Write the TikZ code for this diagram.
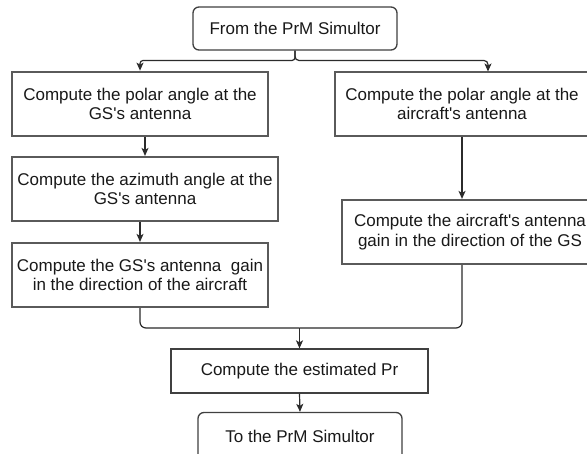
\documentclass[tikz,border=0pt]{standalone}
\usepackage{fontspec}
\setmainfont{Liberation Sans}
\usetikzlibrary{arrows.meta}
\definecolor{boxline}{HTML}{5A5A5A}
\definecolor{conn}{HTML}{2B2B2B}
\newcommand{\q}{\textquotesingle}
\begin{document}
\begin{tikzpicture}[x=1pt,y=-1pt,
  every node/.style={font=\fontsize{17}{19.5}\selectfont, text=black!90, inner sep=0pt, align=center},
  sq/.style={draw=boxline, line width=2.2pt, fill=white},
  thin/.style={draw=conn!90, line width=1.3pt, fill=white},
  rbox/.style={thin, rounded corners=6pt},
  conline/.style={draw=conn, line width=1.2pt},
  arr/.style={conline, -{Stealth[length=8pt,width=7pt,inset=2pt]}}
]
\useasboundingbox (0,0) rectangle (587,454);
\fill[white] (0,0) rectangle (587,454);

\node[rbox, minimum width=204pt, minimum height=43pt] (top) at (295,28.5) {From the PrM Simultor};

\node[sq, minimum width=256pt, minimum height=64.5pt] (L1) at (140,104) {Compute the polar angle at the\\GS\q s antenna};
\node[sq, minimum width=254pt, minimum height=64pt] (R1) at (462,104) {Compute the polar angle at the\\aircraft\q s antenna};
\node[sq, minimum width=266pt, minimum height=64pt] (L2) at (145,189) {Compute the azimuth angle at the\\GS\q s antenna};
\node[sq, minimum width=256pt, minimum height=64pt] (L3) at (140,275) {Compute the GS\q s antenna\ \ gain\\in the direction of the aircraft};
\node[sq, minimum width=256pt, minimum height=64pt] (R2) at (470,232) {Compute the aircraft\q s antenna\\gain in the direction of the GS};
\node[thin, minimum width=257pt, minimum height=44pt] (Pr) at (299.5,371) {Compute the estimated Pr};
\node[rbox, minimum width=204pt, minimum height=48pt] (bot) at (300,436.5) {To the PrM Simultor};

\coordinate (split) at (295,60.5);
\coordinate (r1in) at (488,71.5);
\coordinate (merge) at (299.5,328);

\draw[arr, rounded corners=3pt] (top.south) -- (top.south |- split) -| (L1.north);
\draw[arr, rounded corners=4pt] (top.south) -- (top.south |- split) -| (r1in);
\draw[arr] (L2.north |- L1.south) -- (L2.north);
\draw[arr] (L3.north |- L2.south) -- (L3.north);
\draw[arr] (R1.south) -- (R1.south |- R2.north);
\draw[conline, rounded corners=6pt] (L3.south) |- (merge);
\draw[conline, rounded corners=6pt] (R1.south |- R2.south) |- (merge);
\draw[arr] (merge) -- (Pr.north);
\draw[arr] (Pr.south) -- (bot.north);
\end{tikzpicture}
\end{document}
